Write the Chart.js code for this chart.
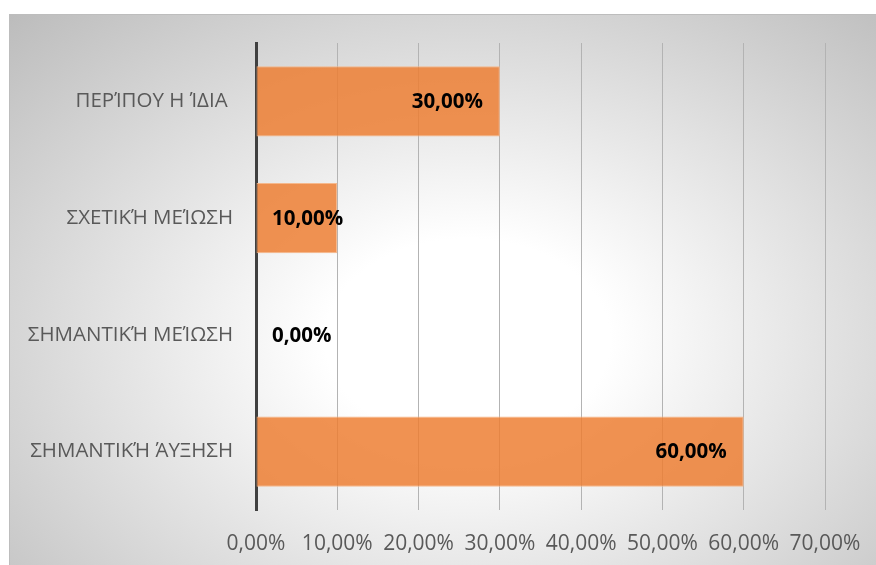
<!DOCTYPE html>
<html>
<head>
<meta charset="utf-8">
<script src="https://cdn.jsdelivr.net/npm/chart.js@4.4.1/dist/chart.umd.min.js"></script>
<style>
  html, body { margin: 0; padding: 0; background: #ffffff; width: 876px; height: 565px; overflow: hidden; }
  #frame {
    position: absolute; left: 9px; top: 14px; width: 880px; height: 560px;
    border-left: 1px solid #bdbdbd; border-top: 1px solid #bdbdbd;
    background: radial-gradient(ellipse farthest-corner at 52% 58%, #ffffff 0%, #ffffff 22%, #bcbcbc 100%);
  }
  #wrap { position: absolute; left: 0; top: 0; width: 876px; height: 565px; }
</style>
</head>
<body>
<div id="frame"></div>
<div id="wrap"><canvas id="c" width="876" height="565"></canvas></div>
<script>
const categories = ['ΠΕΡΊΠΟΥ Η ΊΔΙΑ ', 'ΣΧΕΤΙΚΉ ΜΕΊΩΣΗ', 'ΣΗΜΑΝΤΙΚΉ ΜΕΊΩΣΗ', 'ΣΗΜΑΝΤΙΚΉ ΆΥΞΗΣΗ'];
const values = [30, 10, 0, 60];
const axisMin = 0;
const axisMax = 70;
const axisStep = 10;

function fmt(v) { return v.toFixed(2).replace('.', ',') + '%'; }

const FONT = '"Open Sans", "Noto Sans", sans-serif';

const labelPlugin = {
  id: 'barLabels',
  afterDatasetsDraw(chart) {
    const ctx = chart.ctx;
    const meta = chart.getDatasetMeta(0);
    const left = chart.chartArea.left;
    ctx.save();
    ctx.font = 'bold 20.5px ' + FONT;
    ctx.fillStyle = '#000000';
    ctx.textBaseline = 'middle';
    ctx.textAlign = 'left';
    meta.data.forEach((bar, i) => {
      const t = fmt(values[i]);
      const w = ctx.measureText(t).width;
      const x = Math.max(bar.x - 17 - w, left + 16);
      ctx.fillText(t, x, bar.y + 1);
    });
    ctx.restore();
  }
};

new Chart(document.getElementById('c'), {
  type: 'bar',
  data: {
    labels: categories,
    datasets: [{
      data: values,
      backgroundColor: 'rgba(237,125,49,0.84)',
      borderColor: 'rgba(246,178,130,0.9)',
      borderWidth: 1,
      borderSkipped: false,
      barPercentage: 0.6,
      categoryPercentage: 1.0
    }]
  },
  options: {
    indexAxis: 'y',
    responsive: false,
    animation: false,
    events: [],
    layout: { padding: { top: 43, right: 51, left: 0, bottom: 0 } },
    plugins: { legend: { display: false }, tooltip: { enabled: false } },
    scales: {
      x: {
        min: axisMin, max: axisMax,
        afterFit(s) { s.height = 55; s.paddingRight = 0; s.paddingLeft = 0; },
        grid: { color: '#b3b3b3', lineWidth: 1, drawTicks: false },
        border: { display: false },
        ticks: {
          stepSize: axisStep,
          padding: 21,
          color: '#595959',
          font: { family: FONT, size: 21 },
          callback: (v) => fmt(v)
        }
      },
      y: {
        afterFit(s) { s.width = 256; },
        grid: { display: false, drawTicks: false },
        border: { display: true, color: '#404040', width: 3 },
        ticks: {
          padding: 23,
          color: '#595959',
          font: { family: FONT, size: 20.5 }
        }
      }
    }
  },
  plugins: [labelPlugin]
});
</script>
</body>
</html>
